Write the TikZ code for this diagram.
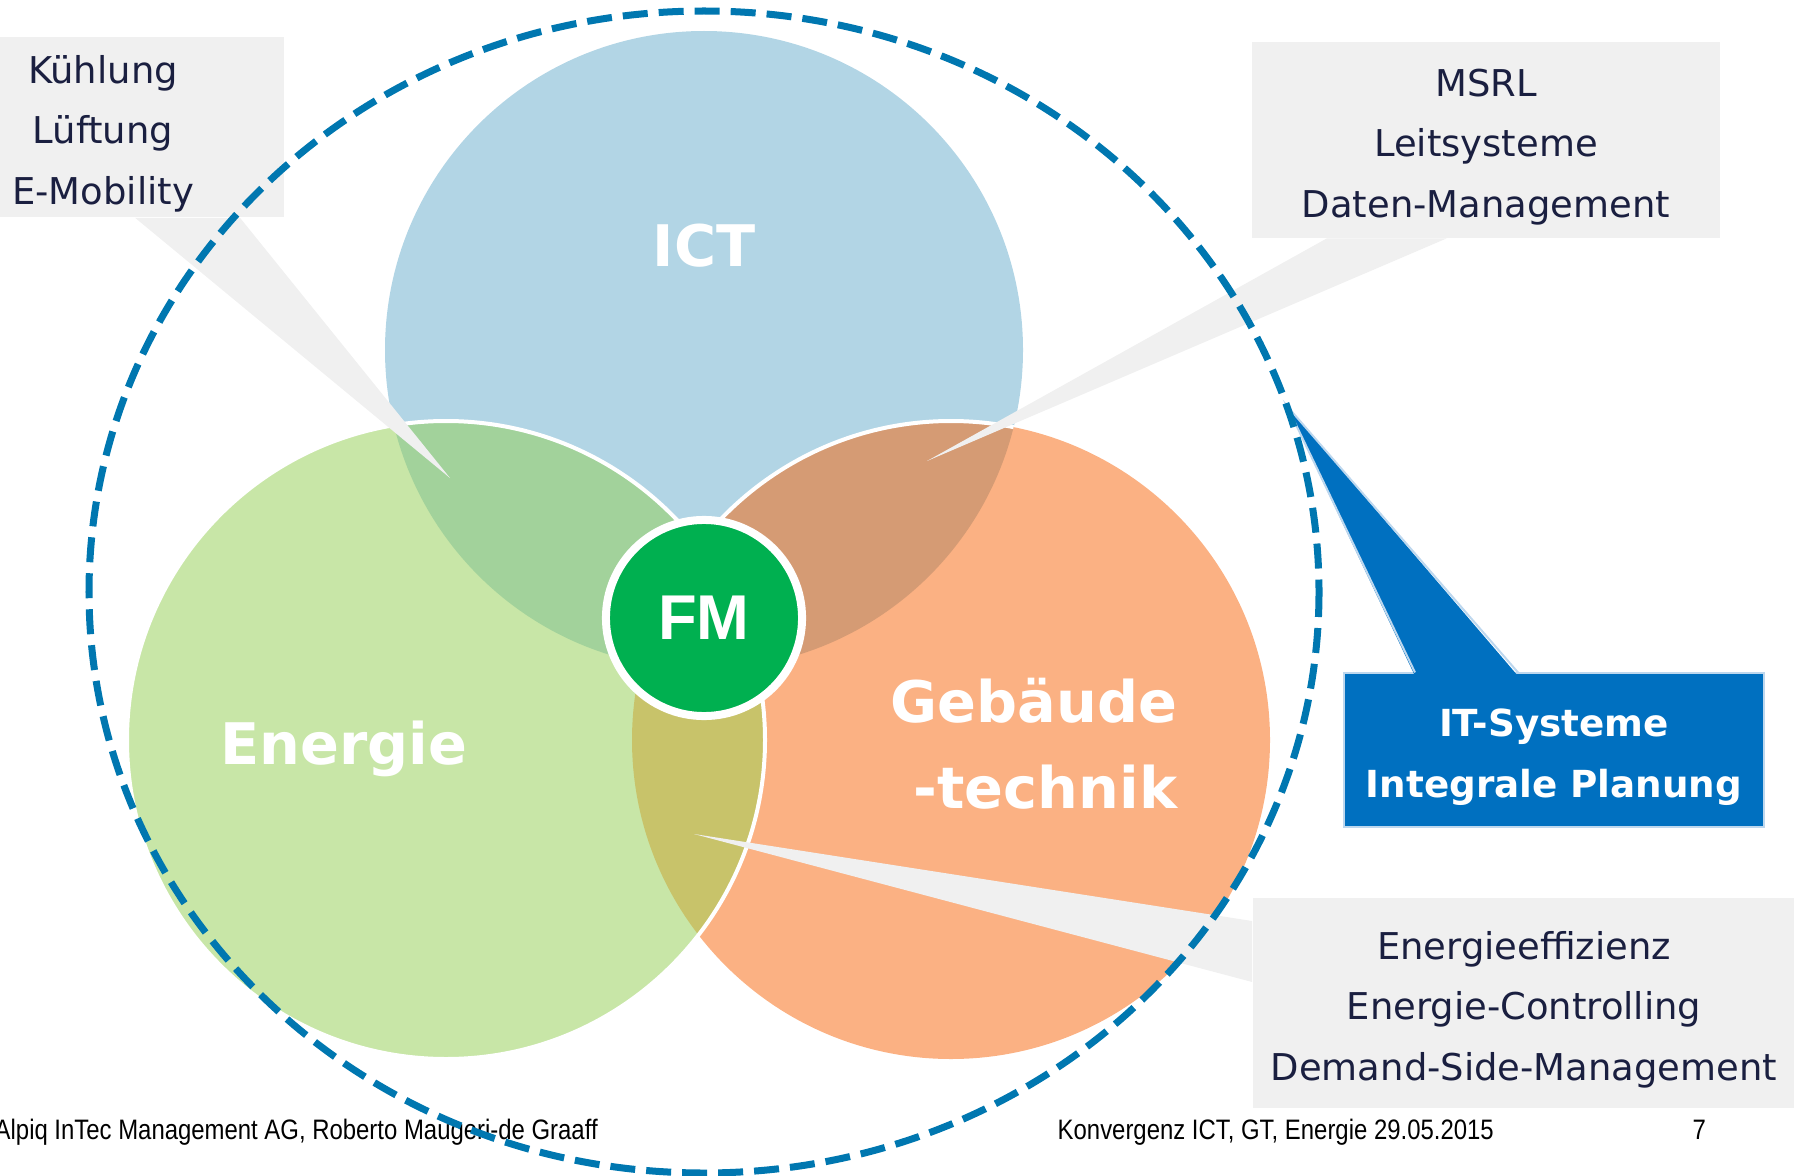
\documentclass[tikz,border=0pt]{standalone}
\usepackage{fontspec}
\setmainfont{DejaVu Sans}
\newfontfamily\footfont[FakeStretch=0.85]{Liberation Sans}
\newfontfamily\fmfont{Liberation Sans}
\usetikzlibrary{positioning}
\definecolor{ictblue}{RGB}{178,213,229}
\definecolor{enegreen}{RGB}{200,230,167}
\definecolor{geborange}{RGB}{251,177,131}
\definecolor{iemix}{RGB}{162,210,155}
\definecolor{igmix}{RGB}{213,155,116}
\definecolor{egmix}{RGB}{200,195,106}
\definecolor{fmgreen}{RGB}{0,176,80}
\definecolor{frameblue}{RGB}{0,119,176}
\definecolor{calloutgray}{RGB}{240,240,240}
\definecolor{itblue}{RGB}{0,112,192}
\definecolor{itedge}{RGB}{189,215,238}
\definecolor{navytext}{RGB}{26,31,64}
\newcommand\topstrut{\rule{0pt}{11.8pt}}
\tikzset{
  venn edge/.style={draw=white,line width=0.04cm},
  venn label/.style={text=white,inner sep=0pt,font=\fontsize{16.3}{24.4}\selectfont\bfseries},
  callout/.style={fill=calloutgray,text=navytext,align=center,inner sep=0pt,
    font=\fontsize{10.5}{17.1}\selectfont},
  frame/.style={draw=frameblue,line width=0.07cm,dash pattern=on 0.25cm off 0.11cm},
  footer/.style={anchor=base west,inner sep=0pt,text=black,font=\footfont\fontsize{8}{10}\selectfont},
}
\begin{document}
\begin{tikzpicture}[x=0.01cm,y=-0.01cm]
\useasboundingbox (0,0) rectangle (1794,1176);
\coordinate (ict) at (704,350);
\coordinate (ene) at (446,740);
\coordinate (geb) at (951,740);
% the three sets
\fill[ictblue] (ict) circle[radius=319];
\fill[geborange] (geb) circle[radius=319];
\fill[enegreen] (ene) circle[radius=319];
\begin{scope}
\clip (ict) circle[radius=319];
\fill[iemix] (ene) circle[radius=319];
\fill[igmix] (geb) circle[radius=319];
\draw[venn edge] (geb) circle[radius=319];
\end{scope}
\begin{scope}
\clip (ene) circle[radius=319];
\fill[egmix] (geb) circle[radius=319];
\end{scope}
\draw[venn edge] (ene) circle[radius=319];
% labels
\node[venn label] (ict label) at (704,246) {ICT};
\node[venn label] (ene label) at (344,749) {Energie};
\node[venn label,align=right] (geb label) at (1034,744) {Gebäude\\-technik};
\node[circle,minimum size=1.96cm,inner sep=0pt,fill=fmgreen,draw=white,line width=0.08cm,
  text=white,font=\fmfont\bfseries\fontsize{18}{20}\selectfont] (fm) at (704,618) {FM};
% callouts
\node[callout,minimum width=3.62cm,minimum height=1.8cm] (kuehl) at (103,127)
  {\topstrut Kühlung\\Lüftung\\E-Mobility};
\coordinate (kuehl tip) at (450,478);
\fill[calloutgray] (135,0 |- kuehl.south) -- (kuehl tip) -- (240,0 |- kuehl.south) -- cycle;
\node[callout,minimum width=4.67cm,minimum height=1.95cm] (msrl) at (1486,140)
  {\topstrut MSRL\\Leitsysteme\\Daten-Management};
\coordinate (msrl tip) at (927,461);
\fill[calloutgray] (1327,0 |- msrl.south) -- (msrl tip) -- (1447,0 |- msrl.south) -- cycle;
\node[callout,minimum width=5.42cm,minimum height=2.1cm] (effiz) at (1524,1003)
  {\topstrut Energieeffizienz\\Energie-Controlling\\Demand-Side-Management};
\coordinate (effiz tip) at (694,834);
\fill[calloutgray] (effiz.west |- 0,921) -- (effiz tip) -- (effiz.west |- 0,982) -- cycle;
\node[fill=itblue,draw=itedge,line width=0.02cm,minimum width=4.2cm,minimum height=1.53cm,
  text=white,align=center,inner sep=0pt,font=\fontsize{10.6}{17.4}\selectfont\bfseries]
  (itsys) at (1554,750) {\topstrut IT-Systeme\\Integrale Planung};
\coordinate (itsys tip) at (1287,406);
\fill[itblue] (1415,676) -- (itsys tip) -- (1518,676) -- cycle;
\draw[itedge,line width=0.02cm] (1415,0 |- itsys.north) -- (itsys tip) -- (1518,0 |- itsys.north);
% footer
\node[footer] (org) at (-6,1139) {Alpiq InTec Management AG, Roberto Maugeri-de Graaff};
\node[footer] (event) at (1057,1139) {Konvergenz ICT, GT, Energie 29.05.2015};
\node[footer] (page) at (1692,1139) {7};
% dashed frame
\draw[frame] (704,592) ellipse[x radius=615,y radius=581];
\end{tikzpicture}
\end{document}
